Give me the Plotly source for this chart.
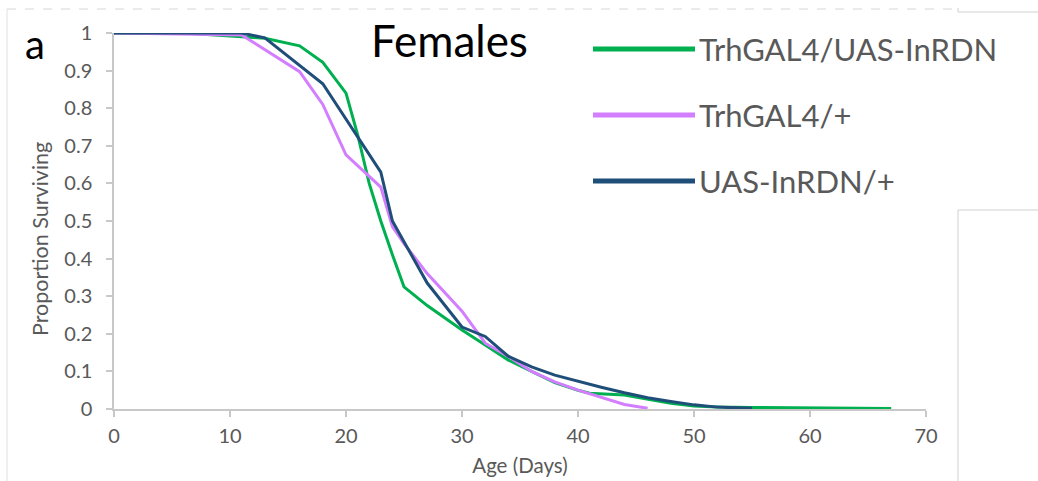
import plotly.graph_objects as go

# ---- data ----
green_days = [0, 6, 11, 13, 16, 18, 20, 21, 22, 23, 24, 25, 27, 30, 32, 34, 36, 38, 40, 41, 44, 46, 48, 50, 52, 55, 60, 67]
green_vals = [1, 1, 0.99, 0.986, 0.966, 0.922, 0.84, 0.73, 0.60, 0.50, 0.41, 0.325, 0.275, 0.21, 0.17, 0.13, 0.10, 0.07, 0.05, 0.042, 0.037, 0.025, 0.015, 0.008, 0.005, 0.004, 0.003, 0.001]

pink_days = [0, 11, 16, 18, 20, 23, 24, 25, 27, 30, 32, 34, 36, 38, 40, 42, 44, 46]
pink_vals = [1, 0.995, 0.897, 0.81, 0.676, 0.59, 0.485, 0.44, 0.36, 0.26, 0.175, 0.14, 0.10, 0.072, 0.05, 0.03, 0.012, 0.002]

navy_days = [0, 11, 13, 18, 23, 24, 25, 27, 30, 32, 34, 36, 38, 40, 42, 44, 46, 48, 50, 52, 55]
navy_vals = [1, 1, 0.987, 0.865, 0.63, 0.50, 0.445, 0.335, 0.218, 0.193, 0.14, 0.112, 0.09, 0.073, 0.058, 0.043, 0.03, 0.02, 0.011, 0.005, 0.002]

series_names = ["TrhGAL4/UAS-InRDN", "TrhGAL4/+", "UAS-InRDN/+"]
series_colors = ["#00B050", "#D37EFF", "#1F4E79"]

x_ticks = [0, 10, 20, 30, 40, 50, 60, 70]
y_ticks = [0, 0.1, 0.2, 0.3, 0.4, 0.5, 0.6, 0.7, 0.8, 0.9, 1]
y_tick_labels = ["0", "0.1", "0.2", "0.3", "0.4", "0.5", "0.6", "0.7", "0.8", "0.9", "1"]

# ---- layout geometry (pixels) ----
W, H = 1038, 481
L, R, T, B = 114, 112, 33, 72
PW, PH = W - L - R, H - T - B


def px(x):
    return (x - L) / PW


def py(y):
    return (H - B - y) / PH


FONT = "Lato"
GRAY = "#595959"
AXIS = "#C8C8C8"

fig = go.Figure()
for d, v, n, c in zip([green_days, pink_days, navy_days],
                      [green_vals, pink_vals, navy_vals],
                      series_names, series_colors):
    fig.add_trace(go.Scatter(x=d, y=v, mode="lines", name=n,
                             line=dict(color=c, width=3), showlegend=False))

shapes = []
annotations = []

# legend (manual, long line samples)
leg_y = [49, 115, 181]
for n, c, yy in zip(series_names, series_colors, leg_y):
    shapes.append(dict(type="line", xref="paper", yref="paper",
                       x0=px(593), x1=px(695), y0=py(yy), y1=py(yy),
                       line=dict(color=c, width=5)))
    annotations.append(dict(xref="paper", yref="paper", x=px(697), y=py(yy),
                            xanchor="left", yanchor="middle", text=n, showarrow=False,
                            font=dict(family=FONT, size=31, color=GRAY)))

annotations.append(dict(xref="paper", yref="paper", x=px(449), y=py(40),
                        xanchor="center", yanchor="middle", text="Females", showarrow=False,
                        font=dict(family=FONT, size=44, color="#000000")))
annotations.append(dict(xref="paper", yref="paper", x=px(35), y=py(44),
                        xanchor="center", yanchor="middle", text="a", showarrow=False,
                        font=dict(family=FONT, size=40, color="#000000")))
# y-axis title (placed as in the reference, slightly below plot centre)
annotations.append(dict(xref="paper", yref="paper", x=px(40), y=py(239),
                        xanchor="center", yanchor="middle", text="Proportion Surviving",
                        textangle=-90, showarrow=False,
                        font=dict(family=FONT, size=21.5, color=GRAY)))

# frame / screenshot borders
shapes += [
    dict(type="line", xref="paper", yref="paper", x0=px(7), x1=px(957), y0=py(9), y1=py(9),
         line=dict(color="#D6D6D6", width=1, dash="dash")),
    dict(type="line", xref="paper", yref="paper", x0=px(7), x1=px(7), y0=py(9), y1=py(481),
         line=dict(color="#E0E0E0", width=1)),
    dict(type="line", xref="paper", yref="paper", x0=px(958), x1=px(1038), y0=py(12), y1=py(12),
         line=dict(color="#D0D0D0", width=1)),
    dict(type="line", xref="paper", yref="paper", x0=px(958), x1=px(958), y0=py(8), y1=py(12),
         line=dict(color="#D0D0D0", width=1)),
    dict(type="line", xref="paper", yref="paper", x0=px(958), x1=px(1038), y0=py(210), y1=py(210),
         line=dict(color="#D0D0D0", width=1)),
    dict(type="line", xref="paper", yref="paper", x0=px(958), x1=px(958), y0=py(210), y1=py(481),
         line=dict(color="#D0D0D0", width=1)),
]

fig.update_layout(
    width=W, height=H,
    margin=dict(l=L, r=R, t=T, b=B, autoexpand=False),
    paper_bgcolor="white", plot_bgcolor="white",
    font=dict(family=FONT, color=GRAY),
    shapes=shapes, annotations=annotations,
    xaxis=dict(range=[0, 70], tickvals=x_ticks, showgrid=False, zeroline=False,
               automargin=False,
               showline=True, linecolor=AXIS, linewidth=1.5,
               ticks="outside", ticklen=6, tickcolor=AXIS, tickwidth=1.5,
               ticklabelstandoff=2,
               tickfont=dict(size=20, color=GRAY),
               title=dict(text="Age (Days)", font=dict(size=20.5, color=GRAY), standoff=13)),
    yaxis=dict(range=[0, 1], tickvals=y_ticks, ticktext=y_tick_labels, showgrid=False, zeroline=False,
               automargin=False,
               showline=True, linecolor=AXIS, linewidth=1.5,
               ticks="outside", ticklen=6, tickcolor=AXIS, tickwidth=1.5,
               ticklabelstandoff=10,
               tickfont=dict(size=20, color=GRAY)),
)

fig.write_html("out.html", config={"displayModeBar": False},
               post_script="document.body.style.margin='0px';")
